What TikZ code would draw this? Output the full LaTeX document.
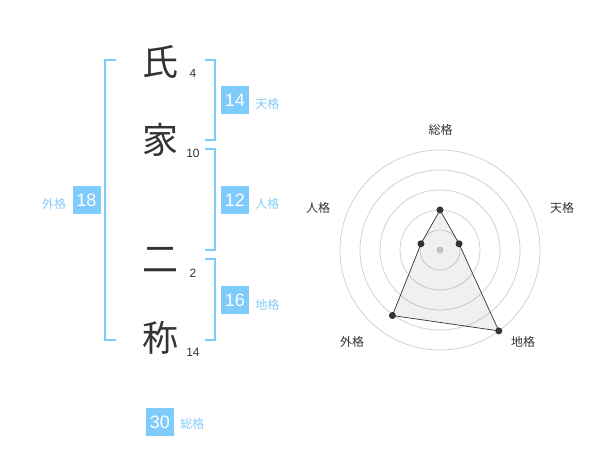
\documentclass[tikz,border=0pt]{standalone}
\usepackage{fontspec}
\usetikzlibrary{calc}
\setmainfont{Liberation Sans}
\newfontfamily\jpfont{Noto Sans CJK JP}
\definecolor{kaku}{HTML}{7FCBFB}
\definecolor{kakutext}{HTML}{86CBF7}
\definecolor{ink}{HTML}{333333}
\definecolor{ring}{HTML}{CCCCCC}
\tikzset{
  kanji/.style={text=ink,font=\jpfont\fontsize{36}{36}\selectfont,inner sep=0pt},
  kakusu/.style={text=ink,font=\fontsize{12}{12}\selectfont,inner sep=0pt},
  kakubox/.style={fill=kaku,text=white,minimum size=28pt,inner sep=0pt,font=\fontsize{18}{18}\selectfont},
  kakuname/.style={text=kakutext,font=\jpfont\fontsize{12}{12}\selectfont,inner sep=0pt},
  bracket/.style={draw=kaku,line width=2pt},
  axislabel/.style={text=ink,font=\jpfont\fontsize{12}{12}\selectfont,inner sep=0pt},
  dot/.style={circle,fill=ink,minimum size=7pt,inner sep=0pt}
}
\begin{document}
\begin{tikzpicture}[x=1pt,y=1pt]
\useasboundingbox (0,0) rectangle (600,470);
% name
\node [kanji,name=c1] at (160,408){氏};
\node [kanji,name=c2] at (160,330){家};
\node [kanji,name=c3] at (160,210){二};
\node [kanji,name=c4] at (160,132){称};
\node [kakusu,name=n1] at (193,397){4};
\node [kakusu,name=n2] at (193,317){10};
\node [kakusu,name=n3] at (193,197){2};
\node [kakusu,name=n4] at (193,118){14};
% brackets
\draw[bracket] (116,410)--(105,410)--(105,130)--(116,130);
\draw[bracket] (205,410)--(214.5,410)--(214.5,330)--(205,330);
\draw[bracket] (205,320.5)--(214.5,320.5)--(214.5,220)--(205,220);
\draw[bracket] (205,210.5)--(214.5,210.5)--(214.5,130)--(205,130);
% kaku
\node [kakubox,name=ten] at (235,370){14};
\node [kakubox,name=jin] at (235,269.5){12};
\node [kakubox,name=chi] at (235,169.5){16};
\node [kakubox,name=gai] at (86.5,269.5){18};
\node [kakubox,name=sou] at (160,47.5){30};
\node [kakuname,anchor=west] at ([xshift=6pt,yshift=-4pt]ten.east){天格};
\node [kakuname,anchor=west] at ([xshift=6pt,yshift=-3pt]jin.east){人格};
\node [kakuname,anchor=west] at ([xshift=6pt,yshift=-4pt]chi.east){地格};
\node [kakuname,anchor=east] at ([xshift=-6pt,yshift=-3pt]gai.west){外格};
\node [kakuname,anchor=west] at ([xshift=6pt,yshift=-1pt]sou.east){総格};
% radar
\coordinate (o) at (440,220);
\foreach \r in {20,40,60,80,100}
  \draw[ring,line width=0.7pt] (o) circle (\r);
\node [circle,fill=ring,minimum size=7pt,inner sep=0pt,name=center] at (o){};
\coordinate (psou) at ($(o)+(90:40)$);
\coordinate (pten) at ($(o)+(18:20)$);
\coordinate (pchi) at ($(o)+(-54:100)$);
\coordinate (pgai) at ($(o)+(-126:81)$);
\coordinate (pjin) at ($(o)+(162:20)$);
\draw[ink,line width=0.7pt,fill=black,fill opacity=0.06] (psou)--(pten)--(pchi)--(pgai)--(pjin)--cycle;
\foreach \p in {psou,pten,pchi,pgai,pjin}
  \node [dot] at (\p){};
\node [axislabel,name=lsou] at (440.5,340){総格};
\node [axislabel,name=lten] at (562,262){天格};
\node [axislabel,name=ljin] at (318,262){人格};
\node [axislabel,name=lgai] at (352,128){外格};
\node [axislabel,name=lchi] at (523,128){地格};
\end{tikzpicture}
\end{document}
